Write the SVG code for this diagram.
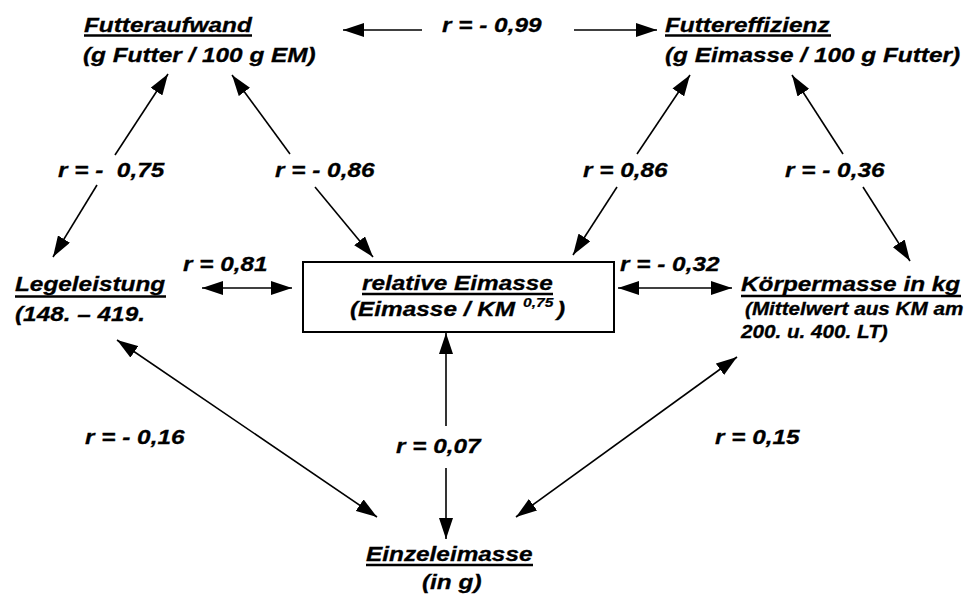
<svg xmlns="http://www.w3.org/2000/svg" width="967" height="594" viewBox="0 0 967 594">
<style>
  text { font-family: "Liberation Sans", Arial, sans-serif; font-weight: bold; font-style: italic; font-size: 21px; fill: #000; stroke: #000; stroke-width: 0.3; }
  .sm { font-size: 18px; }
  .sup { font-size: 13.5px; stroke-width: 0.2; }
  .ul { stroke: #000; stroke-width: 2.4; }
  .con line { stroke: #000; stroke-width: 1.6; fill: none; }
  .box { fill: #fff; stroke: #000; stroke-width: 2; }
</style>
<defs>
  <marker id="ah" markerUnits="userSpaceOnUse" markerWidth="21" markerHeight="14" refX="21" refY="7" orient="auto-start-reverse">
    <path d="M0,0 L21,7 L0,14 z" fill="#000"/>
  </marker>
</defs>
<rect width="967" height="594" fill="#fff"/>

<g class="con" id="connectors">
  <line x1="422" y1="30" x2="343" y2="30" marker-end="url(#ah)"/>
  <line x1="574" y1="30" x2="657" y2="30" marker-end="url(#ah)"/>
  <line x1="115" y1="155" x2="168" y2="74" marker-end="url(#ah)"/>
  <line x1="97" y1="185" x2="53" y2="257" marker-end="url(#ah)"/>
  <line x1="290" y1="154" x2="232" y2="75" marker-end="url(#ah)"/>
  <line x1="315" y1="187" x2="373" y2="257" marker-end="url(#ah)"/>
  <line x1="637" y1="154" x2="690" y2="75" marker-end="url(#ah)"/>
  <line x1="617" y1="187" x2="573" y2="255" marker-end="url(#ah)"/>
  <line x1="843" y1="154" x2="792" y2="75" marker-end="url(#ah)"/>
  <line x1="863" y1="187" x2="910" y2="261" marker-end="url(#ah)"/>
  <line x1="202" y1="288" x2="292" y2="288" marker-start="url(#ah)" marker-end="url(#ah)"/>
  <line x1="618" y1="288" x2="732" y2="288" marker-start="url(#ah)" marker-end="url(#ah)"/>
  <line x1="117" y1="340" x2="377" y2="517" marker-start="url(#ah)" marker-end="url(#ah)"/>
  <line x1="737" y1="357" x2="516" y2="517" marker-start="url(#ah)" marker-end="url(#ah)"/>
  <line x1="446" y1="426" x2="446" y2="333" marker-end="url(#ah)"/>
  <line x1="446" y1="468" x2="446" y2="539" marker-end="url(#ah)"/>
</g>

<g id="labels">
  <text transform="translate(442,32) scale(1.16,1)">r = - 0,99</text>
  <text transform="translate(58,177) scale(1.16,1)" xml:space="preserve">r = -  0,75</text>
  <text transform="translate(275,177) scale(1.16,1)">r = - 0,86</text>
  <text transform="translate(583,177) scale(1.16,1)">r = 0,86</text>
  <text transform="translate(785,177) scale(1.16,1)">r = - 0,36</text>
  <text transform="translate(183,271) scale(1.16,1)">r = 0,81</text>
  <text transform="translate(620,271) scale(1.16,1)">r = - 0,32</text>
  <text transform="translate(85,444) scale(1.16,1)">r = - 0,16</text>
  <text transform="translate(396,453) scale(1.16,1)">r = 0,07</text>
  <text transform="translate(715,444) scale(1.16,1)">r = 0,15</text>
</g>

<g id="futteraufwand">
  <text transform="translate(84,32) scale(1.16,1)">Futteraufwand</text>
  <line class="ul" x1="84" y1="35.5" x2="252" y2="35.5"/>
  <text transform="translate(83,62) scale(1.16,1)">(g Futter / 100 g EM)</text>
</g>

<g id="futtereffizienz">
  <text transform="translate(665,32) scale(1.16,1)">Futtereffizienz</text>
  <line class="ul" x1="665" y1="35.5" x2="831" y2="35.5"/>
  <text transform="translate(665,62) scale(1.16,1)">(g Eimasse / 100 g Futter)</text>
</g>

<g id="legeleistung">
  <text transform="translate(15,291) scale(1.16,1)">Legeleistung</text>
  <line class="ul" x1="15" y1="296.5" x2="166" y2="296.5"/>
  <text transform="translate(15,321) scale(1.16,1)">(148. – 419.</text>
</g>

<g id="relative-eimasse">
  <rect class="box" x="303" y="262" width="311" height="70"/>
  <text transform="translate(362,290) scale(1.16,1)">relative Eimasse</text>
  <line class="ul" x1="362" y1="294" x2="553" y2="294"/>
  <text transform="translate(350,316) scale(1.16,1)">(Eimasse / KM</text>
  <text class="sup" transform="translate(523,307) scale(1.16,1)">0,75</text>
  <text transform="translate(557,316) scale(1.16,1)">)</text>
</g>

<g id="koerpermasse">
  <text transform="translate(741,291) scale(1.16,1)">Körpermasse in kg</text>
  <line class="ul" x1="741" y1="296" x2="961" y2="296"/>
  <text class="sm" transform="translate(745,315) scale(1.15,1)">(Mittelwert aus KM am</text>
  <text class="sm" transform="translate(741,338) scale(1.15,1)">200. u. 400. LT)</text>
</g>

<g id="einzeleimasse">
  <text transform="translate(366,561) scale(1.16,1)">Einzeleimasse</text>
  <line class="ul" x1="366" y1="565" x2="533" y2="565"/>
  <text transform="translate(422,589) scale(1.16,1)">(in g)</text>
</g>
</svg>
